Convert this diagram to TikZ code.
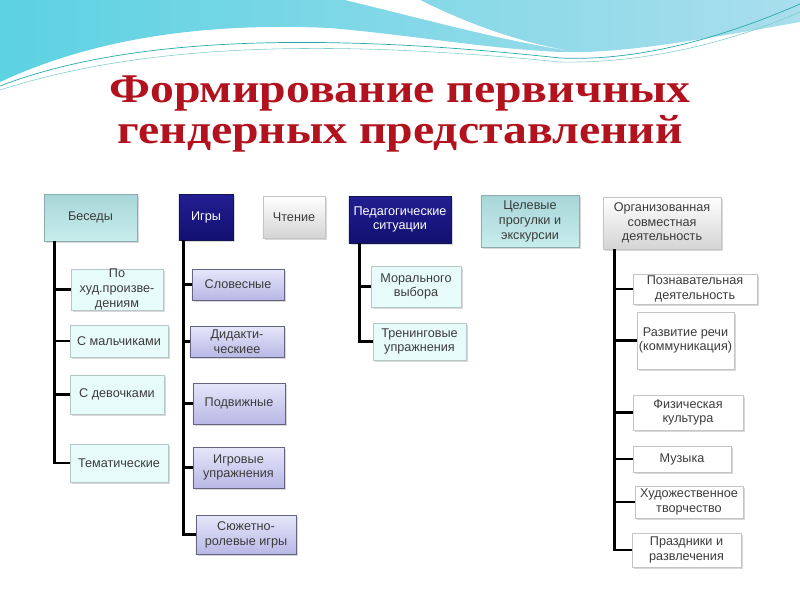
\documentclass[tikz,border=0pt]{standalone}
\usepackage{fontspec}
\setmainfont{Liberation Sans}
\newfontfamily\titlefont{Liberation Serif}
\usetikzlibrary{shadows}

\definecolor{titlered}{RGB}{178,18,30}
\definecolor{boxtext}{RGB}{60,60,60}
\definecolor{tealtop}{RGB}{168,214,216}
\definecolor{tealbot}{RGB}{200,236,236}
\definecolor{tealedge}{RGB}{140,172,174}
\definecolor{navytop}{RGB}{34,30,146}
\definecolor{navybot}{RGB}{18,16,112}
\definecolor{navyedge}{RGB}{20,20,80}
\definecolor{graybot}{RGB}{212,212,212}
\definecolor{grayedge}{RGB}{196,196,196}
\definecolor{icefill}{RGB}{232,251,251}
\definecolor{iceedge}{RGB}{180,200,200}
\definecolor{lilactop}{RGB}{230,230,250}
\definecolor{lilacbot}{RGB}{184,184,230}
\definecolor{lilacedge}{RGB}{100,100,130}
\definecolor{plainedge}{RGB}{196,196,196}
\definecolor{waveleft}{RGB}{92,210,226}
\definecolor{wavemid}{RGB}{136,192,214}
\definecolor{waveright}{RGB}{170,222,236}
\definecolor{waveline}{RGB}{40,170,170}

\begin{document}
\begin{tikzpicture}[x=0.025cm,y=-0.025cm]
    \tikzstyle{every node}=[font=\fontsize{9}{10.5}\selectfont, align=center, inner sep=0pt, text=boxtext]
    \tikzstyle{box}=[draw, line width=0.6pt, drop shadow={shadow xshift=1.2pt, shadow yshift=-1.2pt, opacity=0.3}]
    \tikzstyle{tealbox}=[box, draw=tealedge, top color=tealtop, bottom color=tealbot]
    \tikzstyle{navybox}=[box, draw=navyedge, top color=navytop, bottom color=navybot, text=white]
    \tikzstyle{graybox}=[box, draw=grayedge, top color=white, bottom color=graybot]
    \tikzstyle{icebox}=[box, draw=iceedge, fill=icefill]
    \tikzstyle{lilacbox}=[box, draw=lilacedge, top color=lilactop, bottom color=lilacbot]
    \tikzstyle{plainbox}=[box, draw=plainedge, fill=white]
    \tikzstyle{trunk}=[line width=1.7pt, black]

    \useasboundingbox[fill=white] (0,0) rectangle (800,600);

    % wave at the top
    \shade[left color=waveleft, middle color=wavemid, right color=waveright]
      (0,0) -- (800,0) -- (800,22) .. controls (700,40) and (620,54) .. (560,52)
      .. controls (480,48) and (420,36) .. (330,28)
      .. controls (200,22) and (90,40) .. (0,82) -- cycle;
    \fill[white] (345,0) -- (420,0) .. controls (470,25) and (520,42) .. (565,50)
      .. controls (500,40) and (420,18) .. (345,0) -- cycle;
    \draw[waveline, line width=0.5pt] (0,86) .. controls (120,40) and (300,30) .. (560,58)
      .. controls (650,62) and (740,30) .. (800,4);
    \draw[waveline!60, line width=0.4pt] (0,90) .. controls (140,45) and (320,38) .. (560,62)
      .. controls (660,64) and (750,34) .. (800,12);

    \node[font=\titlefont\bfseries\fontsize{29}{29}\selectfont, text=titlered] (title) at (400,114)
      {\scalebox{1.17}[1]{Формирование первичных}\\\scalebox{1.17}[1]{гендерных представлений}};

    % top row
    \node[tealbox, minimum width=2.325cm, minimum height=1.175cm] (besedy) at (90.5,217.5) {Беседы};
    \node[navybox, minimum width=1.35cm, minimum height=1.15cm] (igry) at (206,217) {Игры};
    \node[graybox, minimum width=1.55cm, minimum height=1.05cm] (chtenie) at (294,217) {Чтение};
    \node[navybox, minimum width=2.55cm, minimum height=1.175cm] (pedsit) at (400,219.5) {Педагогические\\ситуации};
    \node[tealbox, minimum width=2.45cm, minimum height=1.3cm] (progulki) at (530,221.5) {Целевые\\прогулки и\\экскурсии};
    \node[graybox, minimum width=2.95cm, minimum height=1.3cm] (orgdeyat) at (662,223) {Организованная\\совместная\\деятельность};

    % Беседы
    \node[icebox, minimum width=2.3cm, minimum height=1.025cm] (bes1) at (117,289.5) {По\\худ.произве-\\дениям};
    \node[icebox, minimum width=2.45cm, minimum height=0.8cm] (bes2) at (119,341) {С мальчиками};
    \node[icebox, minimum width=2.35cm, minimum height=0.975cm] (bes3) at (117,394.5) {С девочками};
    \node[icebox, minimum width=2.45cm, minimum height=0.95cm] (bes4) at (119,463) {Тематические};

    % Игры
    \node[lilacbox, minimum width=2.3cm, minimum height=0.775cm] (igr1) at (238,284.5) {Словесные};
    \node[lilacbox, minimum width=2.35cm, minimum height=0.775cm] (igr2) at (237,341.5) {Дидакти-\\ческиее};
    \node[lilacbox, minimum width=2.3cm, minimum height=1.025cm] (igr3) at (239,403.5) {Подвижные};
    \node[lilacbox, minimum width=2.275cm, minimum height=1.025cm] (igr4) at (238.5,467.5) {Игровые\\упражнения};
    \node[lilacbox, minimum width=2.5cm, minimum height=0.975cm] (igr5) at (246,534.5) {Сюжетно-\\ролевые игры};

    % Педагогические ситуации
    \node[icebox, minimum width=2.25cm, minimum height=1.025cm] (ped1) at (416,286.5) {Морального\\выбора};
    \node[icebox, minimum width=2.325cm, minimum height=0.925cm] (ped2) at (419.5,341.5) {Тренинговые\\упражнения};

    % Организованная совместная деятельность
    \node[plainbox, minimum width=3.1cm, minimum height=0.75cm] (org1) at (695,289) {Познавательная\\деятельность};
    \node[plainbox, minimum width=2.425cm, minimum height=1.425cm] (org2) at (685.5,340.5) {Развитие речи\\(коммуникация)};
    \node[plainbox, minimum width=2.75cm, minimum height=0.875cm] (org3) at (688,412.5) {Физическая\\культура};
    \node[plainbox, minimum width=2.45cm, minimum height=0.65cm] (org4) at (682,459) {Музыка};
    \node[plainbox, minimum width=2.7cm, minimum height=0.8cm] (org5) at (689,502) {Художественное\\творчество};
    \node[plainbox, minimum width=2.725cm, minimum height=0.85cm] (org6) at (686.5,550) {Праздники и\\развлечения};

    % trunks
    \coordinate (tbes) at ([xshift=0.275cm]besedy.south west);
    \coordinate (tigr) at ([xshift=0.125cm]igry.south west);
    \coordinate (tped) at ([xshift=0.275cm]pedsit.south west);
    \coordinate (torg) at ([xshift=0.3cm]orgdeyat.south west);

    \draw[trunk] (tbes) |- (bes1.west);
    \draw[trunk] (tbes) |- (bes2.west);
    \draw[trunk] (tbes) |- (bes3.west);
    \draw[trunk] (tbes) |- (bes4.west);

    \draw[trunk] (tigr) |- (igr1.west);
    \draw[trunk] (tigr) |- (igr2.west);
    \draw[trunk] (tigr) |- (igr3.west);
    \draw[trunk] (tigr) |- (igr4.west);
    \draw[trunk] (tigr) |- (igr5.west);

    \draw[trunk] (tped) |- (ped1.west);
    \draw[trunk] (tped) |- (ped2.west);

    \draw[trunk] (torg) |- (org1.west);
    \draw[trunk] (torg) |- (org2.west);
    \draw[trunk] (torg) |- (org3.west);
    \draw[trunk] (torg) |- (org4.west);
    \draw[trunk] (torg) |- (org5.west);
    \draw[trunk] (torg) |- (org6.west);

\end{tikzpicture}
\end{document}
